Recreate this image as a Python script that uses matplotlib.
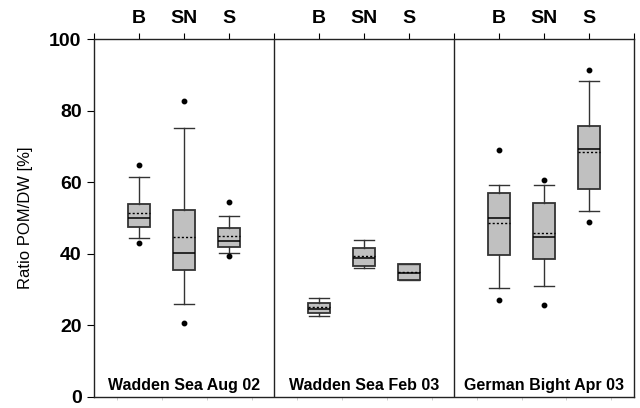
import matplotlib
matplotlib.use("Agg")
import matplotlib.pyplot as plt
import numpy as np

plt.rcParams['font.family'] = ['Liberation Sans', 'DejaVu Sans']

# data (ratio POM/DW in %)
panels = ["Wadden Sea Aug 02", "Wadden Sea Feb 03", "German Bight Apr 03"]
groups = ["B", "SN", "S"]

whis_lo = [44.3, 26.0, 40.2, 22.7, 36.1, 32.6, 30.4, 31.0, 51.9]
q1 =      [47.4, 35.5, 41.8, 23.4, 36.6, 32.6, 39.6, 38.6, 58.2]
median =  [50.0, 40.3, 43.7, 24.6, 38.7, 34.7, 50.0, 44.7, 69.4]
mean =    [51.4, 44.7, 44.9, 25.0, 39.4, 35.0, 48.7, 45.8, 68.4]
q3 =      [54.0, 52.2, 47.3, 26.2, 41.7, 37.2, 57.0, 54.2, 75.8]
whis_hi = [61.5, 75.1, 50.7, 27.6, 43.8, 37.2, 59.3, 59.3, 88.3]
fliers = [[42.9, 64.9], [20.7, 82.6], [39.5, 54.6],
          [], [], [],
          [27.0, 69.1], [25.7, 60.6], [48.8, 91.3]]

positions = [1, 2, 3, 5, 6, 7, 9, 10, 11]

stats = []
for i in range(len(positions)):
    stats.append(dict(whislo=whis_lo[i], q1=q1[i], med=median[i], mean=mean[i],
                      q3=q3[i], whishi=whis_hi[i], fliers=fliers[i]))

fig = plt.figure(figsize=(6.4, 4.08), dpi=100)
ax = fig.add_axes([0.147, 0.0275, 0.8436, 0.8762])

edge = '#333333'
ax.bxp(stats, positions=positions, widths=0.5, patch_artist=True,
       showmeans=True, meanline=True, capwidths=0.46,
       boxprops=dict(facecolor='#c0c0c0', edgecolor=edge, linewidth=1.3),
       medianprops=dict(color='black', linewidth=1.1),
       meanprops=dict(color='black', linestyle=(0, (1.5, 1.5)), linewidth=1.0),
       whiskerprops=dict(color=edge, linewidth=1.0),
       capprops=dict(color=edge, linewidth=1.0),
       flierprops=dict(marker='o', markerfacecolor='black', markeredgecolor='black',
                       markersize=3.2))

for xd in [4, 8]:
    ax.axvline(xd, color='#222222', linewidth=1.0)

for k, name in enumerate(panels):
    ax.text(4 * k + 2, 3.2, name, ha='center', va='center',
            fontsize=11.5, fontweight='bold')

ax.set_xlim(0, 12)
ax.set_ylim(0, 100)

top_labels = []
for j in range(13):
    if j % 4 == 0:
        top_labels.append("")
    else:
        top_labels.append(groups[j % 4 - 1])
ax.set_xticks(np.arange(13))
ax.set_xticklabels(top_labels, fontsize=14, fontweight='bold')
ax.set_xticks(np.arange(0, 12.01, 0.5), minor=True)
ax.tick_params(axis='x', which='major', top=True, labeltop=True, bottom=False,
               labelbottom=False, direction='out', length=4, pad=5, width=0.8)
ax.tick_params(axis='x', which='minor', top=False, bottom=True, direction='out',
               length=2, color='#c8c8c8', width=0.6)

ax.set_yticks([0, 20, 40, 60, 80, 100])
ax.set_yticklabels(["0", "20", "40", "60", "80", "100"], fontsize=14, fontweight='bold')
ax.tick_params(axis='y', direction='out', length=5, width=0.8, pad=4)
ax.set_ylabel("Ratio POM/DW [%]", fontsize=12, labelpad=12)

for s in ax.spines.values():
    s.set_linewidth(1.0)
    s.set_color('#222222')

fig.savefig("out.png", dpi=100)
